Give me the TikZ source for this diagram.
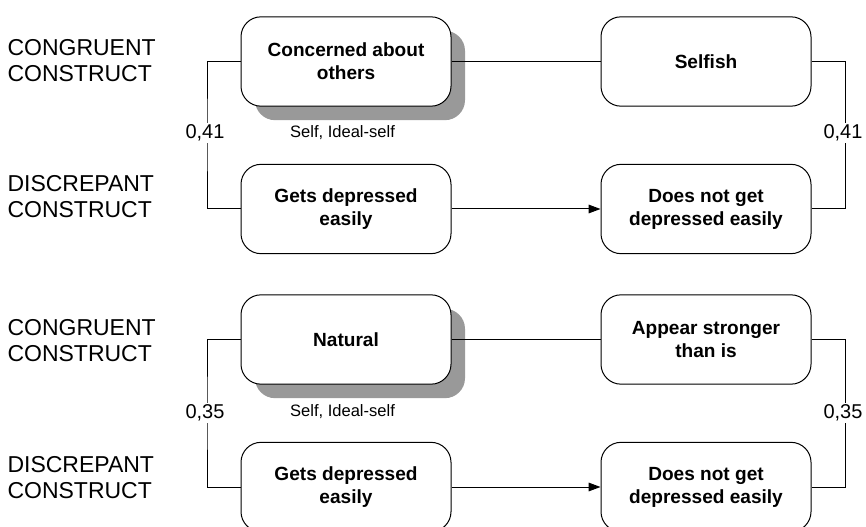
\documentclass[tikz,border=0pt]{standalone}
\usepackage{fontspec}
\setmainfont{Liberation Sans}
\usetikzlibrary{shadows,arrows.meta}
\begin{document}
\begin{tikzpicture}[x=0.75pt,y=-0.75pt,
  line width=0.75pt,
  cbox/.style={draw=black, fill=white, rounded corners=15pt, minimum width=157.5pt, minimum height=67pt,
    align=center, inner sep=0pt, font=\fontsize{14.3pt}{17.25pt}\selectfont\bfseries},
  shad/.style={general shadow={fill=black!40, shadow xshift=10.5pt, shadow yshift=-10.5pt}},
  side/.style={anchor=base west, inner sep=0pt, font=\fontsize{17.25pt}{20pt}\selectfont},
  num/.style={fill=white, inner sep=1pt, font=\fontsize{15pt}{18pt}\selectfont},
  note/.style={inner sep=0pt, font=\fontsize{12.4pt}{15pt}\selectfont},
  conn/.style={draw=black, line width=0.75pt},
  arr/.style={conn, -{Triangle[length=9pt,width=6.5pt]}}]
\useasboundingbox (0,0) rectangle (866,527);

% ---- top group ----
\node[side] (l1a) at (7,56) {CONGRUENT};
\node[side] (l1b) at (7,82) {CONSTRUCT};
\node[side] (l1c) at (7,192) {DISCREPANT};
\node[side] (l1d) at (7,218) {CONSTRUCT};

\node[cbox,shad] (a1) at (346,61.5) {Concerned about\\others};
\node[cbox] (b1) at (706,61.5) {Selfish};
\node[cbox] (c1) at (346,209) {Gets depressed\\easily};
\node[cbox] (d1) at (706,209) {Does not get\\depressed easily};

\draw[conn] (a1.east) -- (b1.west);
\draw[arr] (c1.east) -- (d1.west);
\draw[conn] (a1.west) -| (207,135) |- (c1.west);
\draw[conn] (b1.east) -| (845,135) |- (d1.east);
\node[num] (n1l) at (205,133) {0,41};
\node[num] (n1r) at (843,133) {0,41};
\node[note] (s1) at (342.5,133) {Self, Ideal-self};

% ---- bottom group ----
\node[side] (l2a) at (7,335) {CONGRUENT};
\node[side] (l2b) at (7,361) {CONSTRUCT};
\node[side] (l2c) at (7,472) {DISCREPANT};
\node[side] (l2d) at (7,498) {CONSTRUCT};

\node[cbox,shad] (a2) at (346,339.5) {Natural};
\node[cbox] (b2) at (706,339.5) {Appear stronger\\than is};
\node[cbox] (c2) at (346,487) {Gets depressed\\easily};
\node[cbox] (d2) at (706,487) {Does not get\\depressed easily};

\draw[conn] (a2.east) -- (b2.west);
\draw[arr] (c2.east) -- (d2.west);
\draw[conn] (a2.west) -| (207,413) |- (c2.west);
\draw[conn] (b2.east) -| (845,413) |- (d2.east);
\node[num] (n2l) at (205,413) {0,35};
\node[num] (n2r) at (843,413) {0,35};
\node[note] (s2) at (342.5,412) {Self, Ideal-self};
\end{tikzpicture}
\end{document}
